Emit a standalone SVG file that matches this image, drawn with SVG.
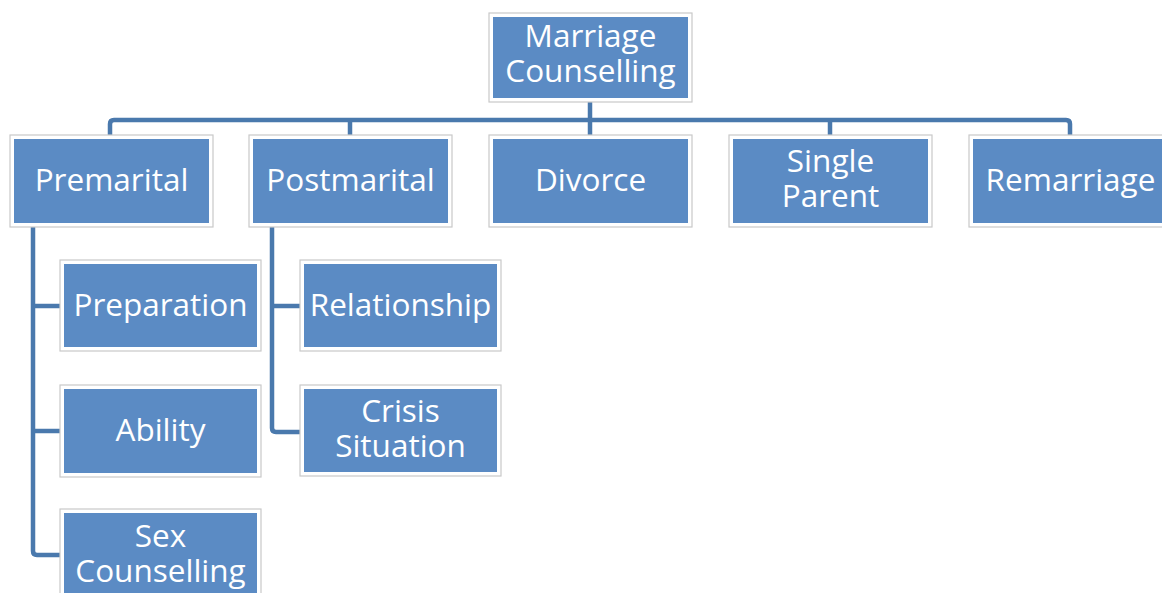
<svg xmlns="http://www.w3.org/2000/svg" width="1162" height="593" viewBox="0 0 1162 593">
<style>
.frame{fill:#ffffff;stroke:#c9c9c9;stroke-width:1.2}
.box{fill:#5b8bc4}
.t{font-family:"Open Sans","Liberation Sans",sans-serif;font-size:31.5px;fill:#ffffff;text-anchor:middle}
.conn{fill:none;stroke:#4a79ad;stroke-width:4.5;stroke-linejoin:round}
</style>
<rect width="1162" height="593" fill="#ffffff"/>
<g id="connectors">
<path class="conn" d="M590,101 V120"/>
<path class="conn" d="M110,135 V124 Q110,120 114,120 H1066 Q1070,120 1070,124 V135"/>
<path class="conn" d="M350,120 V135"/>
<path class="conn" d="M590,120 V135"/>
<path class="conn" d="M830,120 V135"/>
<path class="conn" d="M33,227 V551 Q33,555 37,555 H60"/>
<path class="conn" d="M33,306 H60"/>
<path class="conn" d="M33,431 H60"/>
<path class="conn" d="M272,227 V428 Q272,432 276,432 H300"/>
<path class="conn" d="M272,306 H300"/>
</g>
<g id="root">
<rect class="frame" x="489" y="13" width="203" height="89"/>
<rect class="box" x="493" y="17" width="195" height="81"/>
<text class="t"><tspan x="590.5" y="47">Marriage</tspan><tspan x="590.5" y="82">Counselling</tspan></text>
</g>
<g id="premarital">
<rect class="frame" x="10" y="135" width="203" height="92"/>
<rect class="box" x="14" y="139" width="195" height="84"/>
<text class="t" x="111.5" y="191">Premarital</text>
</g>
<g id="postmarital">
<rect class="frame" x="249" y="135" width="203" height="92"/>
<rect class="box" x="253" y="139" width="195" height="84"/>
<text class="t" x="350.5" y="191">Postmarital</text>
</g>
<g id="divorce">
<rect class="frame" x="489" y="135" width="203" height="92"/>
<rect class="box" x="493" y="139" width="195" height="84"/>
<text class="t" x="590.5" y="191">Divorce</text>
</g>
<g id="single-parent">
<rect class="frame" x="729" y="135" width="203" height="92"/>
<rect class="box" x="733" y="139" width="195" height="84"/>
<text class="t"><tspan x="830.5" y="172">Single</tspan><tspan x="830.5" y="207">Parent</tspan></text>
</g>
<g id="remarriage">
<rect class="frame" x="969" y="135" width="203" height="92"/>
<rect class="box" x="973" y="139" width="195" height="84"/>
<text class="t" x="1070.5" y="191">Remarriage</text>
</g>
<g id="preparation">
<rect class="frame" x="60" y="260" width="201" height="91"/>
<rect class="box" x="64" y="264" width="193" height="83"/>
<text class="t" x="160.5" y="316">Preparation</text>
</g>
<g id="ability">
<rect class="frame" x="60" y="385" width="201" height="92"/>
<rect class="box" x="64" y="389" width="193" height="84"/>
<text class="t" x="160.5" y="441">Ability</text>
</g>
<g id="sex-counselling">
<rect class="frame" x="60" y="509" width="201" height="92"/>
<rect class="box" x="64" y="513" width="193" height="84"/>
<text class="t"><tspan x="160.5" y="547">Sex</tspan><tspan x="160.5" y="582">Counselling</tspan></text>
</g>
<g id="relationship">
<rect class="frame" x="300" y="260" width="201" height="91"/>
<rect class="box" x="304" y="264" width="193" height="83"/>
<text class="t" x="400.5" y="316">Relationship</text>
</g>
<g id="crisis-situation">
<rect class="frame" x="300" y="385" width="201" height="91"/>
<rect class="box" x="304" y="389" width="193" height="83"/>
<text class="t"><tspan x="400.5" y="422">Crisis</tspan><tspan x="400.5" y="457">Situation</tspan></text>
</g>
</svg>
